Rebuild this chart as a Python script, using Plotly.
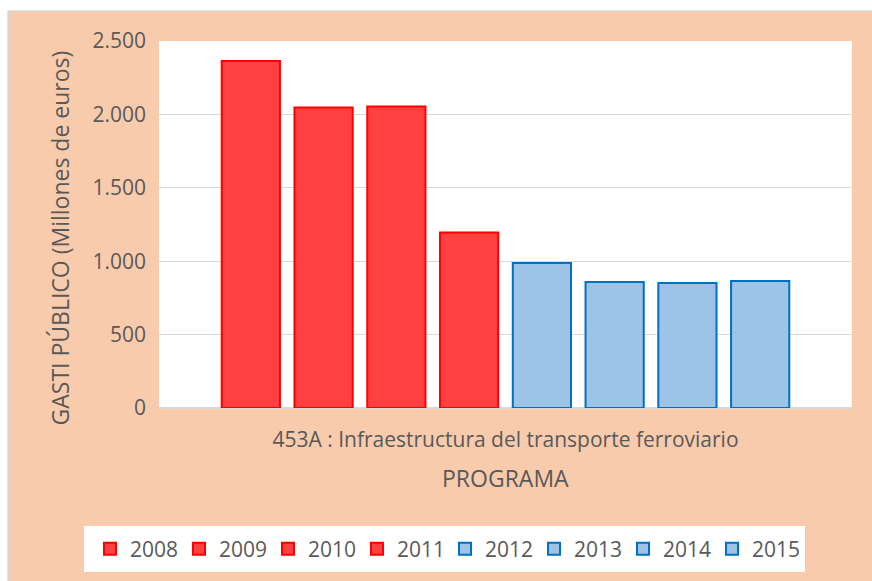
import plotly.graph_objects as go

# Data: public spending on programme 453A, millions of euros
programa = ["453A : Infraestructura del transporte ferroviario"]
anios = ["2008", "2009", "2010", "2011", "2012", "2013", "2014", "2015"]
gasto = [2364, 2047, 2054, 1195, 988, 858, 851, 865]

# Styling
ROJO_RELLENO, ROJO_BORDE = "#FF4040", "#FF0000"
AZUL_RELLENO, AZUL_BORDE = "#9DC3E6", "#0070C0"
MELOCOTON = "#F8CBAD"
GRIS_TEXTO = "#595959"
GRIS_REJILLA = "#D9D9D9"
FUENTE = "Open Sans"

W, H = 872, 581
ML, MR, MT, MB = 159, 20, 41, 173
PW, PH = W - ML - MR, H - MT - MB


def px_x(p):
    return (p - ML) / PW


def px_y(p):
    return (H - MB - p) / PH


fig = go.Figure()
for anio, valor in zip(anios, gasto):
    rojo = int(anio) <= 2011
    fig.add_trace(go.Bar(
        x=programa,
        y=[valor],
        name=anio,
        legend="legend" if rojo else "legend2",
        marker=dict(
            color=ROJO_RELLENO if rojo else AZUL_RELLENO,
            line=dict(color=ROJO_BORDE if rojo else AZUL_BORDE, width=2),
        ),
    ))

shapes = [
    # white margin strips with a thin grey border around the chart area
    dict(type="rect", xref="paper", yref="paper", x0=-1, x1=2,
         y0=px_y(11), y1=px_y(-20), fillcolor="white", line_width=0, layer="below"),
    dict(type="rect", xref="paper", yref="paper", x0=px_x(-20), x1=px_x(8),
         y0=-1, y1=2, fillcolor="white", line_width=0, layer="below"),
    dict(type="line", xref="paper", yref="paper", x0=px_x(8), x1=2,
         y0=px_y(11), y1=px_y(11), line=dict(color=GRIS_REJILLA, width=1.5)),
    dict(type="line", xref="paper", yref="paper", x0=px_x(8), x1=px_x(8),
         y0=-1, y1=px_y(11), line=dict(color=GRIS_REJILLA, width=1.5)),
    # legend box
    dict(type="rect", xref="paper", yref="paper", x0=px_x(84), x1=px_x(805),
         y0=px_y(572), y1=px_y(526), fillcolor="white", line_width=0, layer="below"),
]

annotations = [
    dict(text="GASTI PÚBLICO (Millones de euros)", xref="paper", yref="paper",
         x=px_x(59), y=px_y(238.5), xanchor="center", yanchor="middle",
         textangle=-90, showarrow=False,
         font=dict(family=FUENTE, size=23, color=GRIS_TEXTO)),
    dict(text="PROGRAMA", xref="paper", yref="paper",
         x=0.5, y=px_y(478), xanchor="center", yanchor="middle",
         showarrow=False, font=dict(family=FUENTE, size=23, color=GRIS_TEXTO)),
]

leyenda = dict(
    orientation="h", xref="container", yref="container",
    xanchor="left", y=1 - 549 / H, yanchor="middle",
    bgcolor="rgba(0,0,0,0)", font=dict(family=FUENTE, size=21, color=GRIS_TEXTO),
    traceorder="normal", itemclick=False, itemdoubleclick=False,
    entrywidth=44, entrywidthmode="pixels",
)

fig.update_layout(
    width=W, height=H,
    margin=dict(l=ML, r=MR, t=MT, b=MB, pad=0),
    paper_bgcolor=MELOCOTON,
    plot_bgcolor="white",
    font=dict(family=FUENTE, size=21, color=GRIS_TEXTO),
    separators=",.",
    barmode="group",
    bargap=0.16,
    bargroupgap=0.2,
    showlegend=True,
    legend=dict(leyenda, x=90 / W),
    legend2=dict(leyenda, x=445 / W),
    shapes=shapes,
    annotations=annotations,
)

fig.update_xaxes(
    showgrid=False, showline=False, zeroline=False,
    ticks="", ticklabelstandoff=17,
    tickfont=dict(family=FUENTE, size=21, color=GRIS_TEXTO),
)
fig.update_yaxes(
    range=[0, 2500], dtick=500, tickformat=",d",
    showgrid=True, gridcolor=GRIS_REJILLA, gridwidth=1,
    zeroline=True, zerolinecolor=GRIS_REJILLA, zerolinewidth=1.5,
    showline=False, ticks="", ticklabelstandoff=12,
    tickfont=dict(family=FUENTE, size=21, color=GRIS_TEXTO),
)

fig.write_html("out.html")
